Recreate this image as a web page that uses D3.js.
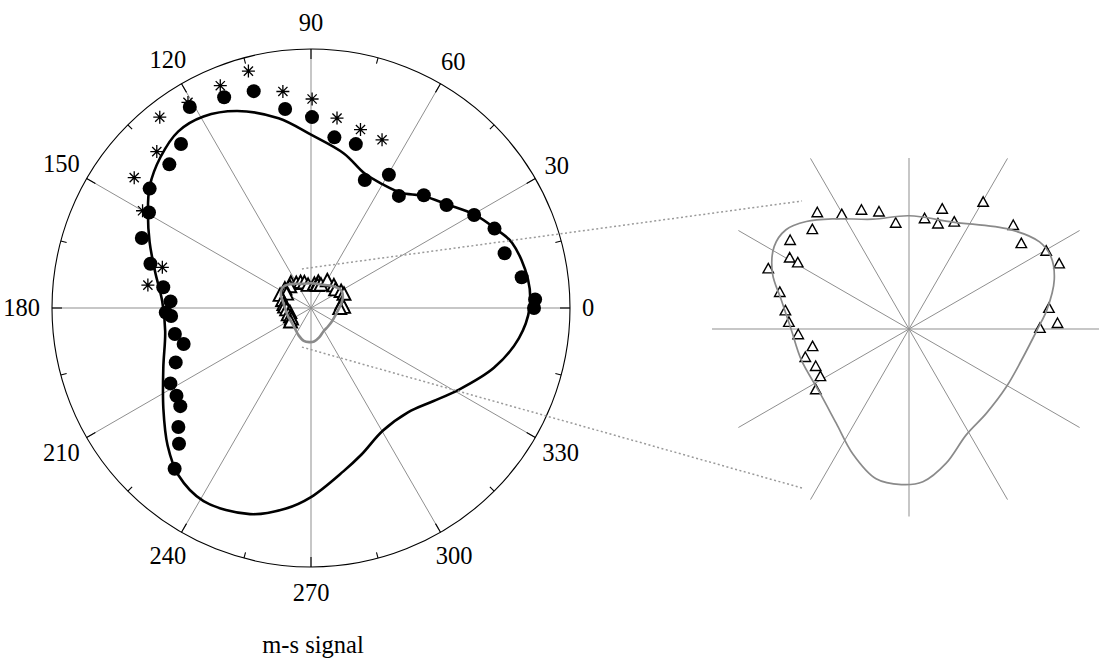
<!DOCTYPE html>
<html>
<head>
<meta charset="utf-8">
<script src="https://cdn.jsdelivr.net/npm/d3@7/dist/d3.min.js"></script>
<style>
  html, body { margin: 0; padding: 0; background: #fff; }
  svg { display: block; }
  text { font-family: "Liberation Serif", "Times New Roman", serif; fill: #000; }
</style>
</head>
<body>
<svg id="chart" width="1099" height="659"></svg>
<script>
// Angular grid: spokes every 30 degrees, labelled
const gridAngles = [0, 30, 60, 90, 120, 150, 180, 210, 240, 270, 300, 330];
const gridLabels = ["0", "30", "60", "90", "120", "150", "180", "210", "240", "270", "300", "330"];
const minorTickAngles = [15, 45, 75, 105, 135, 165, 195, 225, 255, 285, 315, 345];

// Model curve (black line), angle in degrees and radius
const modelAngles = [0, 7.6, 18, 23.4, 29.7, 37.2, 45, 52, 60, 68.2, 78, 90, 99.7, 110.5, 119.3, 126.9, 134.9, 143, 149.6, 157.8, 166.9, 177.4, 189, 202, 214.3, 223.8, 231.6, 240.9, 253.5, 262.9, 270, 281.2, 288.9, 300.3, 312.9, 322.6, 330.8, 341.9, 351.7];
const modelRadii  = [0.844, 0.845, 0.816, 0.774, 0.727, 0.661, 0.612, 0.565, 0.552, 0.559, 0.610, 0.669, 0.743, 0.812, 0.848, 0.853, 0.823, 0.780, 0.730, 0.673, 0.618, 0.575, 0.570, 0.615, 0.690, 0.767, 0.824, 0.853, 0.830, 0.780, 0.730, 0.643, 0.599, 0.549, 0.550, 0.593, 0.650, 0.743, 0.811];

// Measured signal (filled circles)
const dotAngles = [2.2, 0, 8.3, 15.8, 23.4, 29.7, 37.2, 45, 51.9, 59.7, 67.2, 74.7, 82.2, 89.7, 97.4, 104.8, 112.4, 121.1, 128.4, 134.6, 143.5, 149.5, 157.5, 164.6, 172, 177.3, 183.3, 181.8, 190.8, 195.8, 201.9, 208.2, 213.1, 216.9, 221.9, 225.8, 229.7];
const dotRadii  = [0.866, 0.861, 0.822, 0.777, 0.772, 0.725, 0.657, 0.616, 0.550, 0.596, 0.536, 0.656, 0.665, 0.737, 0.775, 0.866, 0.880, 0.906, 0.808, 0.779, 0.775, 0.726, 0.707, 0.643, 0.576, 0.543, 0.541, 0.561, 0.535, 0.511, 0.563, 0.616, 0.620, 0.631, 0.688, 0.731, 0.814];

// Second measured signal (asterisks)
const starAngles = [104.8, 112.2, 97.4, 89.7, 82.2, 74.5, 67.1, 120.9, 128.4, 134.6, 143.6, 150, 164.7, 172];
const starRadii  = [0.946, 0.927, 0.843, 0.807, 0.740, 0.715, 0.705, 0.925, 0.940, 0.848, 0.848, 0.751, 0.595, 0.636];

// m-s signal (triangles), small amplitude
const triAngles = [128.1, 120.3, 111.7, 104.3, 97.1, 82, 74.6, 74.7, 67.2, 59.8, 45, 37.5, 29.8, 23.7, 8.7, 2.4, 0.6, 134, 143.1, 149, 149, 156.6, 163.9, 171.3, 176.5, 182.6, 189.9, 195, 201.5, 207.9, 212.8];
const triRadii  = [0.126, 0.113, 0.109, 0.103, 0.091, 0.095, 0.106, 0.093, 0.099, 0.125, 0.125, 0.120, 0.134, 0.139, 0.120, 0.126, 0.111, 0.118, 0.126, 0.118, 0.110, 0.130, 0.114, 0.106, 0.102, 0.094, 0.083, 0.091, 0.085, 0.085, 0.094];

// m-s model curve (grey line)
const msAngles = [0, 7.9, 18.7, 26.9, 33.7, 44.7, 67.7, 90, 108.2, 123.5, 133.7, 141.1, 148.5, 157.8, 167.2, 180, 196, 215.8, 232.4, 245.7, 257.6, 267.2, 275.2, 285.5, 298.4, 312.5, 329.3, 344.6];
const msRadii  = [0.109, 0.118, 0.130, 0.135, 0.133, 0.120, 0.098, 0.096, 0.098, 0.112, 0.126, 0.134, 0.134, 0.125, 0.111, 0.100, 0.095, 0.093, 0.101, 0.116, 0.130, 0.132, 0.130, 0.118, 0.102, 0.097, 0.096, 0.099];

// Enlarged view limits (data units)
const insetXLim = [-0.167, 0.167];
const insetYLim = [-0.159, 0.145];

// Zoom callout: corners of the enlarged region [x, y] in data units
const calloutMain  = [[-0.035, 0.151], [-0.035, -0.151]];
const calloutInset = [[-0.0907, 0.1085], [-0.0907, -0.1348]];

const xLabel = "m-s signal";

// ---------- layout ----------
const svg = d3.select("#chart");
const cx = 311, cy = 308, R = 259;     // main polar axes
const icx = 909, icy = 329, IR = 197;  // enlarged view
const fontSize = 24.5;

const rMain = d3.scaleLinear().domain([0, 1]).range([0, R]);
const rInset = d3.scaleLinear().domain([0, 0.167]).range([0, IR]);
// degrees (counter-clockwise from east) -> d3 radial angle (clockwise from north)
const ang = d3.scaleLinear().domain([0, 360]).range([Math.PI / 2, Math.PI / 2 - 2 * Math.PI]);

const zip = (a, r) => a.map((v, i) => ({ a: v, r: r[i] }));
const model = zip(modelAngles, modelRadii);
const dots = zip(dotAngles, dotRadii);
const stars = zip(starAngles, starRadii);
const tris = zip(triAngles, triRadii);
const ms = zip(msAngles, msRadii);

const gridColor = "#8f8f8f";

function polarLine(rs) {
  return d3.lineRadial()
    .angle(d => ang(d.a))
    .radius(d => rs(d.r))
    .curve(d3.curveCatmullRomClosed.alpha(0.5));
}
function pos(d, rs) { return d3.pointRadial(ang(d.a), rs(d.r)); }

const triPath = (w, h) => `M0,${-h / 2}L${w / 2},${h / 2}L${-w / 2},${h / 2}Z`;
const starPath = s => {
  const q = s * 0.7071;
  return `M${-s},0L${s},0M0,${-s}L0,${s}M${-q},${-q}L${q},${q}M${-q},${q}L${q},${-q}`;
};

// ---------- main polar plot ----------
const main = svg.append("g").attr("transform", `translate(${cx},${cy})`);

main.append("g").selectAll("line").data(gridAngles).join("line")
  .attr("x1", 0).attr("y1", 0)
  .attr("x2", d => d3.pointRadial(ang(d), R)[0])
  .attr("y2", d => d3.pointRadial(ang(d), R)[1])
  .attr("stroke", gridColor).attr("stroke-width", 1);

main.append("circle").attr("r", R).attr("fill", "none")
  .attr("stroke", "#000").attr("stroke-width", 1.1);

const ticks = gridAngles.map(a => ({ a, len: 10 })).concat(minorTickAngles.map(a => ({ a, len: 6 })));
main.append("g").selectAll("line").data(ticks).join("line")
  .attr("x1", d => d3.pointRadial(ang(d.a), R)[0])
  .attr("y1", d => d3.pointRadial(ang(d.a), R)[1])
  .attr("x2", d => d3.pointRadial(ang(d.a), R - d.len)[0])
  .attr("y2", d => d3.pointRadial(ang(d.a), R - d.len)[1])
  .attr("stroke", "#000").attr("stroke-width", 1.1);

// angle labels, pushed clear of the circle by their own extent
const lab = main.append("g").selectAll("text").data(gridAngles).join("text")
  .attr("text-anchor", "middle")
  .attr("font-size", fontSize)
  .text((d, i) => gridLabels[i]);
lab.each(function (d) {
  const w = this.getComputedTextLength();
  const t = d * Math.PI / 180;
  const c = Math.cos(t), s = Math.sin(t);
  const ext = Math.sqrt((c * w / 2) ** 2 + (s * 14) ** 2);
  const dist = R + 12 + ext;
  d3.select(this).attr("x", c * dist).attr("y", -s * dist + 0.34 * fontSize);
});

main.append("path").datum(model)
  .attr("d", polarLine(rMain))
  .attr("fill", "none").attr("stroke", "#000").attr("stroke-width", 2.6);

main.append("g").selectAll("path").data(stars).join("path")
  .attr("transform", d => `translate(${pos(d, rMain)})`)
  .attr("d", starPath(6.5))
  .attr("stroke", "#000").attr("stroke-width", 1.3).attr("fill", "none");

main.append("g").selectAll("circle").data(dots).join("circle")
  .attr("cx", d => pos(d, rMain)[0]).attr("cy", d => pos(d, rMain)[1])
  .attr("r", 7).attr("fill", "#000");

main.append("g").selectAll("path").data(tris).join("path")
  .attr("transform", d => `translate(${pos(d, rMain)})`)
  .attr("d", triPath(13, 12.5))
  .attr("fill", "#fff").attr("stroke", "#000").attr("stroke-width", 1.9);

main.append("path").datum(ms)
  .attr("d", polarLine(rMain))
  .attr("fill", "none").attr("stroke", "#8a8a8a").attr("stroke-width", 2.6);

// ---------- callout lines ----------
svg.append("g").selectAll("line").data([0, 1]).join("line")
  .attr("x1", i => cx + rMain(calloutMain[i][0]))
  .attr("y1", i => cy - rMain(calloutMain[i][1]))
  .attr("x2", i => icx + rInset(calloutInset[i][0]))
  .attr("y2", i => icy - rInset(calloutInset[i][1]))
  .attr("stroke", "#9a9a9a").attr("stroke-width", 1.5)
  .attr("stroke-dasharray", "2,2.5");

// ---------- enlarged view of the m-s signal ----------
const inset = svg.append("g").attr("transform", `translate(${icx},${icy})`);

// spokes are cut to the view limits of the enlarged axes
const ix0 = rInset(insetXLim[0]), ix1 = rInset(insetXLim[1]);
const iy0 = -rInset(insetYLim[1]), iy1 = -rInset(insetYLim[0]);
svg.append("defs").append("clipPath").attr("id", "insetClip")
  .append("rect")
  .attr("x", ix0).attr("y", iy0)
  .attr("width", ix1 - ix0).attr("height", iy1 - iy0);

inset.append("g").attr("clip-path", "url(#insetClip)")
  .selectAll("line").data(gridAngles).join("line")
  .attr("x1", 0).attr("y1", 0)
  .attr("x2", d => d3.pointRadial(ang(d), IR)[0])
  .attr("y2", d => d3.pointRadial(ang(d), IR)[1])
  .attr("stroke", gridColor).attr("stroke-width", 1);

inset.append("g").selectAll("path").data(tris).join("path")
  .attr("transform", d => `translate(${pos(d, rInset)})`)
  .attr("d", triPath(10.5, 9.5))
  .attr("fill", "#fff").attr("stroke", "#000").attr("stroke-width", 1.4);

inset.append("path").datum(ms)
  .attr("d", polarLine(rInset))
  .attr("fill", "none").attr("stroke", "#8a8a8a").attr("stroke-width", 1.7);

// ---------- axis title ----------
svg.append("text")
  .attr("x", 313).attr("y", 653)
  .attr("text-anchor", "middle")
  .attr("font-size", fontSize)
  .text(xLabel);
</script>
</body>
</html>
